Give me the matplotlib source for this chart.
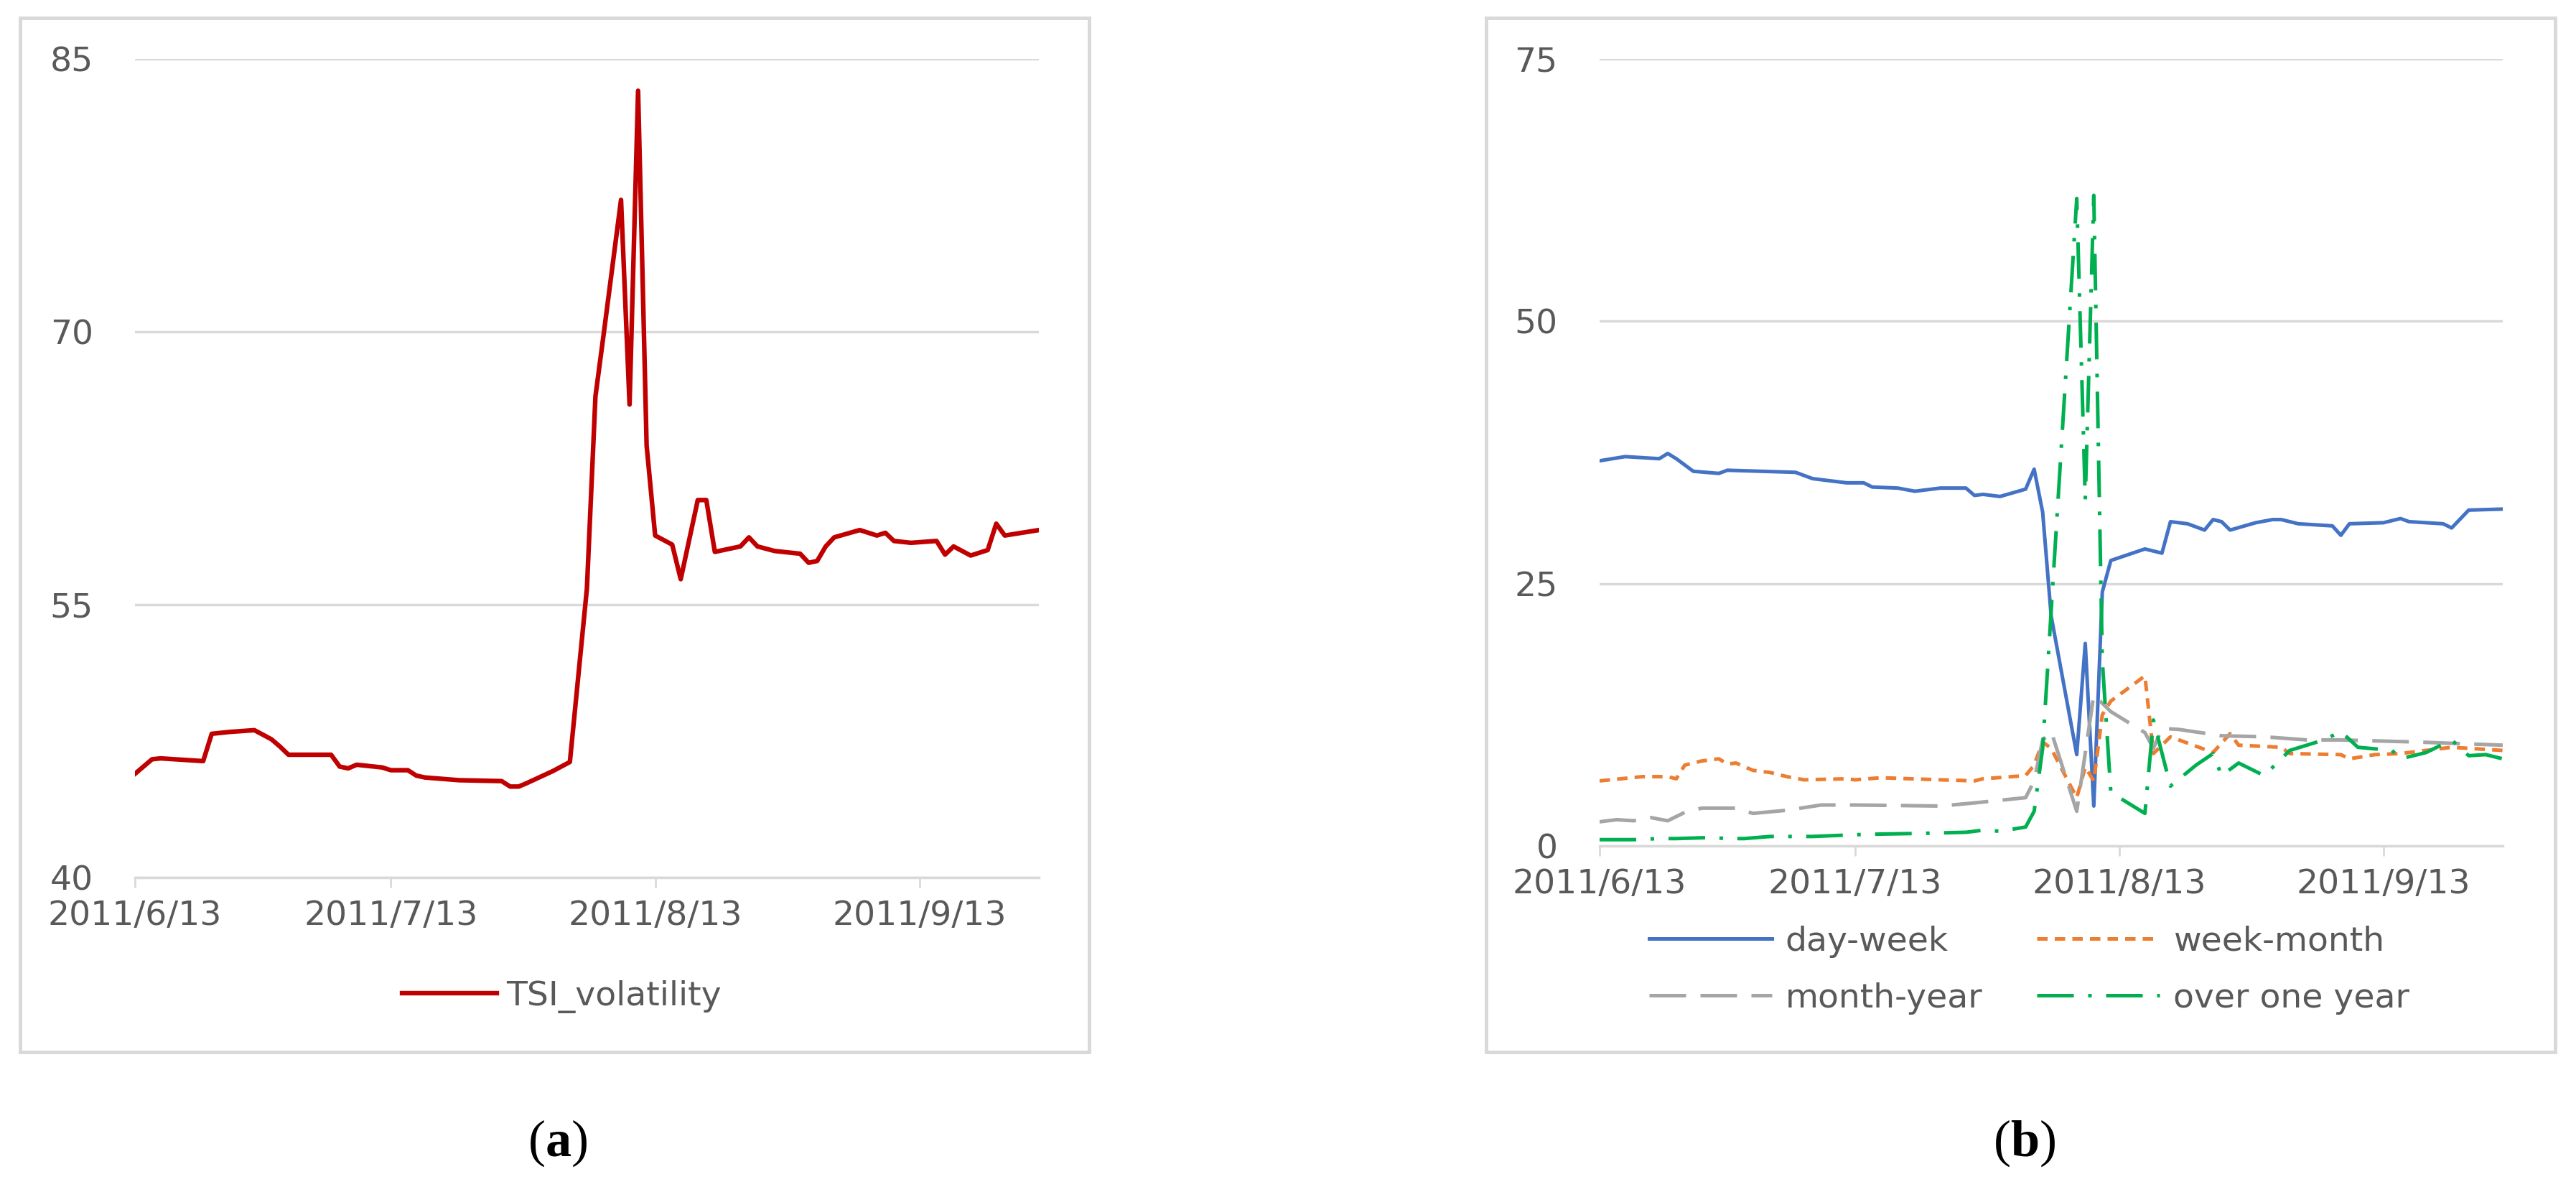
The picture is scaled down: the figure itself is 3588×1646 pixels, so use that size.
import matplotlib
matplotlib.use('Agg')
import matplotlib.pyplot as plt
from matplotlib.patches import Rectangle
import pandas as pd

plt.rcParams['font.family'] = ['DejaVu Sans']
plt.rcParams['mathtext.fontset'] = 'custom'
plt.rcParams['mathtext.bf'] = 'Liberation Serif:bold'
plt.rcParams['mathtext.rm'] = 'Liberation Serif'

start = pd.Timestamp('2011-06-13')
end = pd.Timestamp('2011-09-27')
tick_dates = ['2011-06-13', '2011-07-13', '2011-08-13', '2011-09-13']
tick_labels = ['2011/6/13', '2011/7/13', '2011/8/13', '2011/9/13']

# (a) TSI volatility -- x given as days after 2011/6/13
tsi_day = [0, 2, 3, 8, 9, 11, 14, 16, 17, 18, 23, 24, 25, 26, 29, 30, 32, 33, 34, 38,
           43, 44, 45, 46, 49, 51, 53, 54, 55, 57, 58, 59, 60, 61, 63, 64, 66, 67, 68,
           71, 72, 73, 75, 78, 79, 80, 81, 82, 85, 87, 88, 89, 91, 94, 95, 96, 98, 100,
           101, 102, 106]
tsi_val = [45.7, 46.5, 46.55, 46.4, 47.9, 48.0, 48.1, 47.6, 47.2, 46.75, 46.75, 46.1, 46.0,
           46.2, 46.05, 45.9, 45.9, 45.6, 45.5, 45.35, 45.3, 45.0, 45.0, 45.2, 45.85, 46.35,
           55.9, 66.45, 70.0, 77.25, 66.0, 83.25, 63.75, 58.8, 58.3, 56.4, 60.75, 60.75, 57.9,
           58.2, 58.7, 58.2, 57.95, 57.8, 57.3, 57.4, 58.2, 58.7, 59.1, 58.8, 58.95, 58.5,
           58.4, 58.5, 57.75, 58.2, 57.7, 58.0, 59.45, 58.8, 59.1]

# (b) components
dw_day = [0, 3, 7, 8, 9, 11, 14, 15, 23, 25, 29, 31, 32, 35, 37, 40, 43, 44, 45, 47, 50,
          51, 52, 53, 56, 57, 58, 59, 60, 64, 66, 67, 69, 71, 72, 73, 74, 77, 79, 80, 82,
          86, 87, 88, 92, 94, 95, 99, 100, 102, 106]
dw_val = [36.7, 37.1, 36.9, 37.4, 36.9, 35.7, 35.5, 35.8, 35.6, 35.0, 34.6, 34.6, 34.2, 34.1,
          33.8, 34.1, 34.1, 33.4, 33.5, 33.3, 34.0, 35.9, 31.8, 21.9, 8.7, 19.3, 3.8, 24.2,
          27.2, 28.3, 27.9, 30.9, 30.7, 30.1, 31.1, 30.9, 30.1, 30.8, 31.1, 31.1, 30.7, 30.5,
          29.6, 30.7, 30.8, 31.2, 30.9, 30.7, 30.3, 32.0, 32.1]

wm_day = [0, 5, 8, 9, 10, 12, 14, 15, 16, 18, 20, 22, 24, 29, 30, 33, 40, 44, 45, 50, 51,
          52, 53, 54, 56, 57, 58, 59, 60, 64, 65, 66, 67, 68, 72, 74, 75, 80, 81, 87, 88,
          91, 94, 100, 106]
wm_val = [6.2, 6.6, 6.6, 6.4, 7.7, 8.1, 8.3, 7.8, 7.9, 7.2, 7.0, 6.6, 6.3, 6.4, 6.3, 6.5,
          6.3, 6.2, 6.4, 6.7, 7.7, 9.9, 9.3, 7.7, 4.6, 7.5, 6.2, 12.5, 13.8, 16.2, 8.8, 9.6,
          10.4, 10.1, 8.9, 10.7, 9.6, 9.4, 8.8, 8.7, 8.3, 8.7, 8.8, 9.4, 9.1]

my_day = [0, 2, 4, 6, 8, 10, 12, 16, 18, 22, 26, 30, 40, 44, 50, 51, 52, 53, 56, 58, 60,
          64, 65, 66, 68, 73, 78, 83, 87, 96, 106]
my_val = [2.3, 2.5, 2.4, 2.7, 2.4, 3.2, 3.6, 3.6, 3.1, 3.4, 3.9, 3.9, 3.8, 4.1, 4.6, 6.2,
          10.1, 10.9, 3.3, 14.4, 12.8, 10.8, 9.3, 11.2, 11.1, 10.5, 10.4, 10.1, 10.1, 9.9, 9.6]

oy_day = [0, 4, 7, 9, 13, 15, 17, 20, 25, 31, 38, 43, 45, 47, 50, 51, 52, 56, 57, 58, 59,
          60, 64, 65, 67, 70, 72, 73, 75, 78, 81, 85, 87, 89, 93, 94, 97, 100, 102, 104, 106]
oy_val = [0.6, 0.6, 0.7, 0.7, 0.8, 0.7, 0.7, 0.9, 0.9, 1.1, 1.2, 1.3, 1.5, 1.4, 1.8, 3.3,
          9.3, 61.7, 33.0, 62.0, 17.7, 5.1, 3.1, 12.0, 5.7, 7.7, 8.8, 6.7, 7.9, 6.7, 9.1,
          10.1, 10.9, 9.4, 9.1, 8.3, 8.9, 10.1, 8.6, 8.7, 8.3]


def to_dates(days):
    return start + pd.to_timedelta(days, unit='D')


W, H = 3588, 1646
fig = plt.figure(figsize=(W / 100, H / 100), dpi=100)

grid_c = '#D9D9D9'
text_c = '#595959'
fs = 34


def style(ax, ylo, yhi, yt):
    ax.set_xlim(start, end)
    ax.set_ylim(ylo, yhi)
    ax.set_yticks(yt)
    ax.set_xticks(pd.to_datetime(tick_dates))
    ax.set_xticklabels(tick_labels)
    ax.grid(axis='y', color=grid_c, lw=2.5)
    ax.set_axisbelow(True)
    for s in ['top', 'right', 'left']:
        ax.spines[s].set_visible(False)
    ax.spines['bottom'].set_color(grid_c)
    ax.spines['bottom'].set_linewidth(2.5)
    ax.tick_params(axis='x', length=10, width=2, color=grid_c, pad=12,
                   labelsize=fs, labelcolor=text_c)
    ax.tick_params(axis='y', length=0, pad=42, labelsize=fs, labelcolor=text_c)


# frames around the two charts
for x0, x1 in [(28, 1517), (2070, 3559)]:
    fig.add_artist(Rectangle((x0 / W, 1 - 1465 / H), (x1 - x0) / W, (1465 - 25) / H,
                             transform=fig.transFigure, fill=False, ec=grid_c, lw=3.6))

# (a)
ax1 = fig.add_axes([188 / W, 1 - 1222 / H, (1447 - 188) / W, (1222 - 82) / H])
ax1.plot(to_dates(tsi_day), tsi_val, color='#C00000', lw=4.6, label='TSI_volatility')
style(ax1, 40, 85, [40, 55, 70, 85])
ax1.legend(loc='center left', bbox_to_anchor=(560 / W, 1 - 1388 / H),
           bbox_transform=fig.transFigure, frameon=False, fontsize=fs,
           handlelength=2.8, handletextpad=0.28, borderpad=0, borderaxespad=0,
           labelcolor=text_c)

# (b)
lw2 = 3.6
ax2 = fig.add_axes([2228 / W, 1 - 1178 / H, (3486 - 2228) / W, (1178 - 82) / H])
ax2.plot(to_dates(dw_day), dw_val, color='#4472C4', lw=lw2, label='day-week')
ax2.plot(to_dates(wm_day), wm_val, color='#ED7D31', lw=lw2, ls=(0, (2.9, 2.0)),
         label='week-month')
ax2.plot(to_dates(my_day), my_val, color='#A5A5A5', lw=lw2, ls=(0, (10.2, 4.0)),
         label='month-year')
ax2.plot(to_dates(oy_day), oy_val, color='#00B050', lw=lw2, ls=(0, (10.2, 4.0, 1.0, 4.0)),
         label='over one year')
style(ax2, 0, 75, [0, 25, 50, 75])
h, l = ax2.get_legend_handles_labels()
order = [0, 2, 1, 3]
ax2.legend([h[i] for i in order], [l[i] for i in order], ncol=2,
           loc='center left', bbox_to_anchor=(2297 / W, 1 - 1351 / H),
           bbox_transform=fig.transFigure, frameon=False, fontsize=fs,
           handlelength=3.62, handletextpad=0.4, columnspacing=1.6,
           labelspacing=0.72, borderpad=0, borderaxespad=0, labelcolor=text_c)

fig.text(777 / W, 1 - 1592 / H, r'($\mathbf{a}$)', family='Liberation Serif',
         fontsize=52, ha='center', va='center', color='black')
fig.text(2820 / W, 1 - 1592 / H, r'($\mathbf{b}$)', family='Liberation Serif',
         fontsize=52, ha='center', va='center', color='black')

plt.savefig('out.png', dpi=100)
